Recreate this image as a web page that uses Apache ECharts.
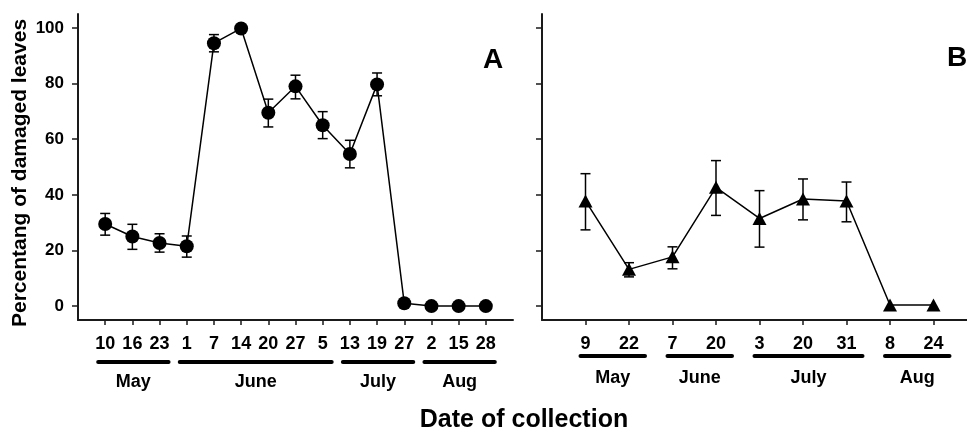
<!DOCTYPE html>
<html>
<head>
<meta charset="utf-8">
<script src="https://cdn.jsdelivr.net/npm/echarts@6/dist/echarts.min.js"></script>
<style>
html,body{margin:0;padding:0;background:#fff;}
#chart{width:967px;height:432px;}
</style>
</head>
<body>
<div id="chart"></div>
<script>
// ---- Data ----
const catA = ['10','16','23','1','7','14','20','27','5','13','19','27','2','15','28'];
const valA = [29.5, 25, 22.7, 21.5, 94.5, 99.8, 69.5, 79, 65, 54.7, 79.7, 1, 0, 0, 0];
const errLowA = [25.5, 20.4, 19.4, 17.6, 91.4, 99.8, 64.4, 74.5, 60.2, 49.7, 75.6, 1, 0, 0, 0];
const errHighA = [33.3, 29.4, 26, 25.2, 97.6, 99.8, 74.4, 83, 69.9, 59.6, 83.8, 1, 0, 0, 0];

const catB = ['9','22','7','20','3','20','31','8','24'];
const valB = [37.8, 13.2, 17.7, 42.7, 31.5, 38.5, 37.8, 0.4, 0.4];
const errLowB = [27.4, 10.5, 13.4, 32.6, 21.2, 31, 30.3, 0.4, 0.4];
const errHighB = [47.6, 15.6, 21.3, 52.3, 41.5, 45.7, 44.6, 0.4, 0.4];

const monthNames = ['May', 'June', 'July', 'Aug'];
const monthFirstA = [1, 4, 10, 13];
const monthLastA = [3, 9, 12, 15];
const monthFirstB = [1, 3, 5, 8];
const monthLastB = [2, 4, 7, 9];

const yTicks = [0, 20, 40, 60, 80, 100];
const yTitle = 'Percentang of damaged leaves';
const xTitle = 'Date of collection';

// ---- Chart ----
const FONT = '"Liberation Sans", Arial, Helvetica, sans-serif';
const AX = '#1a1a1a';
const chart = echarts.init(document.getElementById('chart'), null, {renderer: 'canvas'});

const idxA = catA.map((_, i) => i + 1);
const idxB = catB.map((_, i) => i + 1);

function errRender(params, api) {
  const x = api.value(0), lo = api.value(1), hi = api.value(2);
  if (hi - lo < 0.05) return null;
  const p1 = api.coord([x, hi]);
  const p2 = api.coord([x, lo]);
  const w = 5;
  const st = {stroke: '#000', lineWidth: 1.5};
  return {type: 'group', children: [
    {type: 'line', shape: {x1: p1[0], y1: p1[1], x2: p2[0], y2: p2[1]}, style: st},
    {type: 'line', shape: {x1: p1[0] - w, y1: p1[1], x2: p1[0] + w, y2: p1[1]}, style: st},
    {type: 'line', shape: {x1: p2[0] - w, y1: p2[1], x2: p2[0] + w, y2: p2[1]}, style: st}
  ]};
}

function monthRender(padL, padR, barDy, labelDy) {
  return function (params, api) {
    const a = api.coord([api.value(0), -5]);
    const b = api.coord([api.value(1), -5]);
    const y = a[1];
    const x1 = a[0] - padL, x2 = b[0] + padR;
    return {type: 'group', children: [
      {type: 'line', shape: {x1: x1, y1: y + barDy, x2: x2, y2: y + barDy},
       style: {stroke: '#000', lineWidth: 4, lineCap: 'round'}},
      {type: 'text', style: {text: monthNames[params.dataIndex], x: (x1 + x2) / 2, y: y + labelDy,
        align: 'center', verticalAlign: 'middle', fontSize: 18, fontWeight: 'bold',
        fontFamily: FONT, fill: '#000'}}
    ]};
  };
}

function xAxisCfg(gridIndex, max, idx, cats) {
  return {
    type: 'value', gridIndex: gridIndex, min: 0, max: max,
    splitLine: {show: false},
    axisLine: {show: true, onZero: false, lineStyle: {color: AX, width: 2}},
    axisTick: {show: true, customValues: idx, length: 5, lineStyle: {color: AX, width: 1.5}},
    axisLabel: {show: true, customValues: idx, margin: 15,
      formatter: v => cats[Math.round(v) - 1] || '',
      fontSize: 18, fontWeight: 'bold', fontFamily: FONT, color: '#000'}
  };
}

function yAxisCfg(gridIndex, showLabel) {
  return {
    type: 'value', gridIndex: gridIndex, min: -5, max: 105,
    splitLine: {show: false},
    axisLine: {show: true, onZero: false, lineStyle: {color: AX, width: 2}},
    axisTick: {show: true, customValues: yTicks, length: 6, lineStyle: {color: AX, width: 1.5}},
    axisLabel: {show: showLabel, customValues: yTicks, margin: 14,
      fontSize: 17, fontWeight: 'bold', fontFamily: FONT, color: '#000'}
  };
}

const option = {
  animation: false,
  backgroundColor: '#fff',
  grid: [
    {left: 78, top: 14, width: 435, height: 306},
    {left: 542, top: 14, width: 425, height: 306}
  ],
  xAxis: [xAxisCfg(0, 16, idxA, catA), xAxisCfg(1, 425 / 43.5, idxB, catB)],
  yAxis: [yAxisCfg(0, true), yAxisCfg(1, false)],
  graphic: [
    {type: 'text', x: 20, y: 173, rotation: Math.PI / 2,
     style: {text: yTitle, align: 'center', verticalAlign: 'middle',
       fontSize: 21, fontWeight: 'bold', fontFamily: FONT, fill: '#000'}},
    {type: 'text', left: 483, top: 46, style: {text: 'A', fontSize: 28, fontWeight: 'bold', fontFamily: FONT, fill: '#000'}},
    {type: 'text', left: 947, top: 44, style: {text: 'B', fontSize: 28, fontWeight: 'bold', fontFamily: FONT, fill: '#000'}},
    {type: 'text', x: 524, y: 420, style: {text: xTitle, align: 'center', verticalAlign: 'middle',
      fontSize: 25, fontWeight: 'bold', fontFamily: FONT, fill: '#000'}}
  ],
  series: [
    {type: 'custom', xAxisIndex: 0, yAxisIndex: 0, renderItem: errRender, clip: false, z: 1,
     data: idxA.map((x, i) => [x, errLowA[i], errHighA[i]])},
    {type: 'line', xAxisIndex: 0, yAxisIndex: 0, z: 2,
     data: idxA.map((x, i) => [x, valA[i]]),
     symbol: 'circle', symbolSize: 14,
     lineStyle: {color: '#000', width: 1.5}, itemStyle: {color: '#000'}},
    {type: 'custom', xAxisIndex: 1, yAxisIndex: 1, renderItem: errRender, clip: false, z: 1,
     data: idxB.map((x, i) => [x, errLowB[i], errHighB[i]])},
    {type: 'line', xAxisIndex: 1, yAxisIndex: 1, z: 2,
     data: idxB.map((x, i) => [x, valB[i]]),
     symbol: 'triangle', symbolSize: [14, 13],
     lineStyle: {color: '#000', width: 1.5}, itemStyle: {color: '#000'}},
    {type: 'custom', xAxisIndex: 0, yAxisIndex: 0, renderItem: monthRender(7, 9, 42, 62), clip: false, silent: true,
     data: monthFirstA.map((f, i) => [f, monthLastA[i]])},
    {type: 'custom', xAxisIndex: 1, yAxisIndex: 1, renderItem: monthRender(5, 16, 36, 58), clip: false, silent: true,
     data: monthFirstB.map((f, i) => [f, monthLastB[i]])}
  ]
};
chart.setOption(option);
</script>
</body>
</html>
